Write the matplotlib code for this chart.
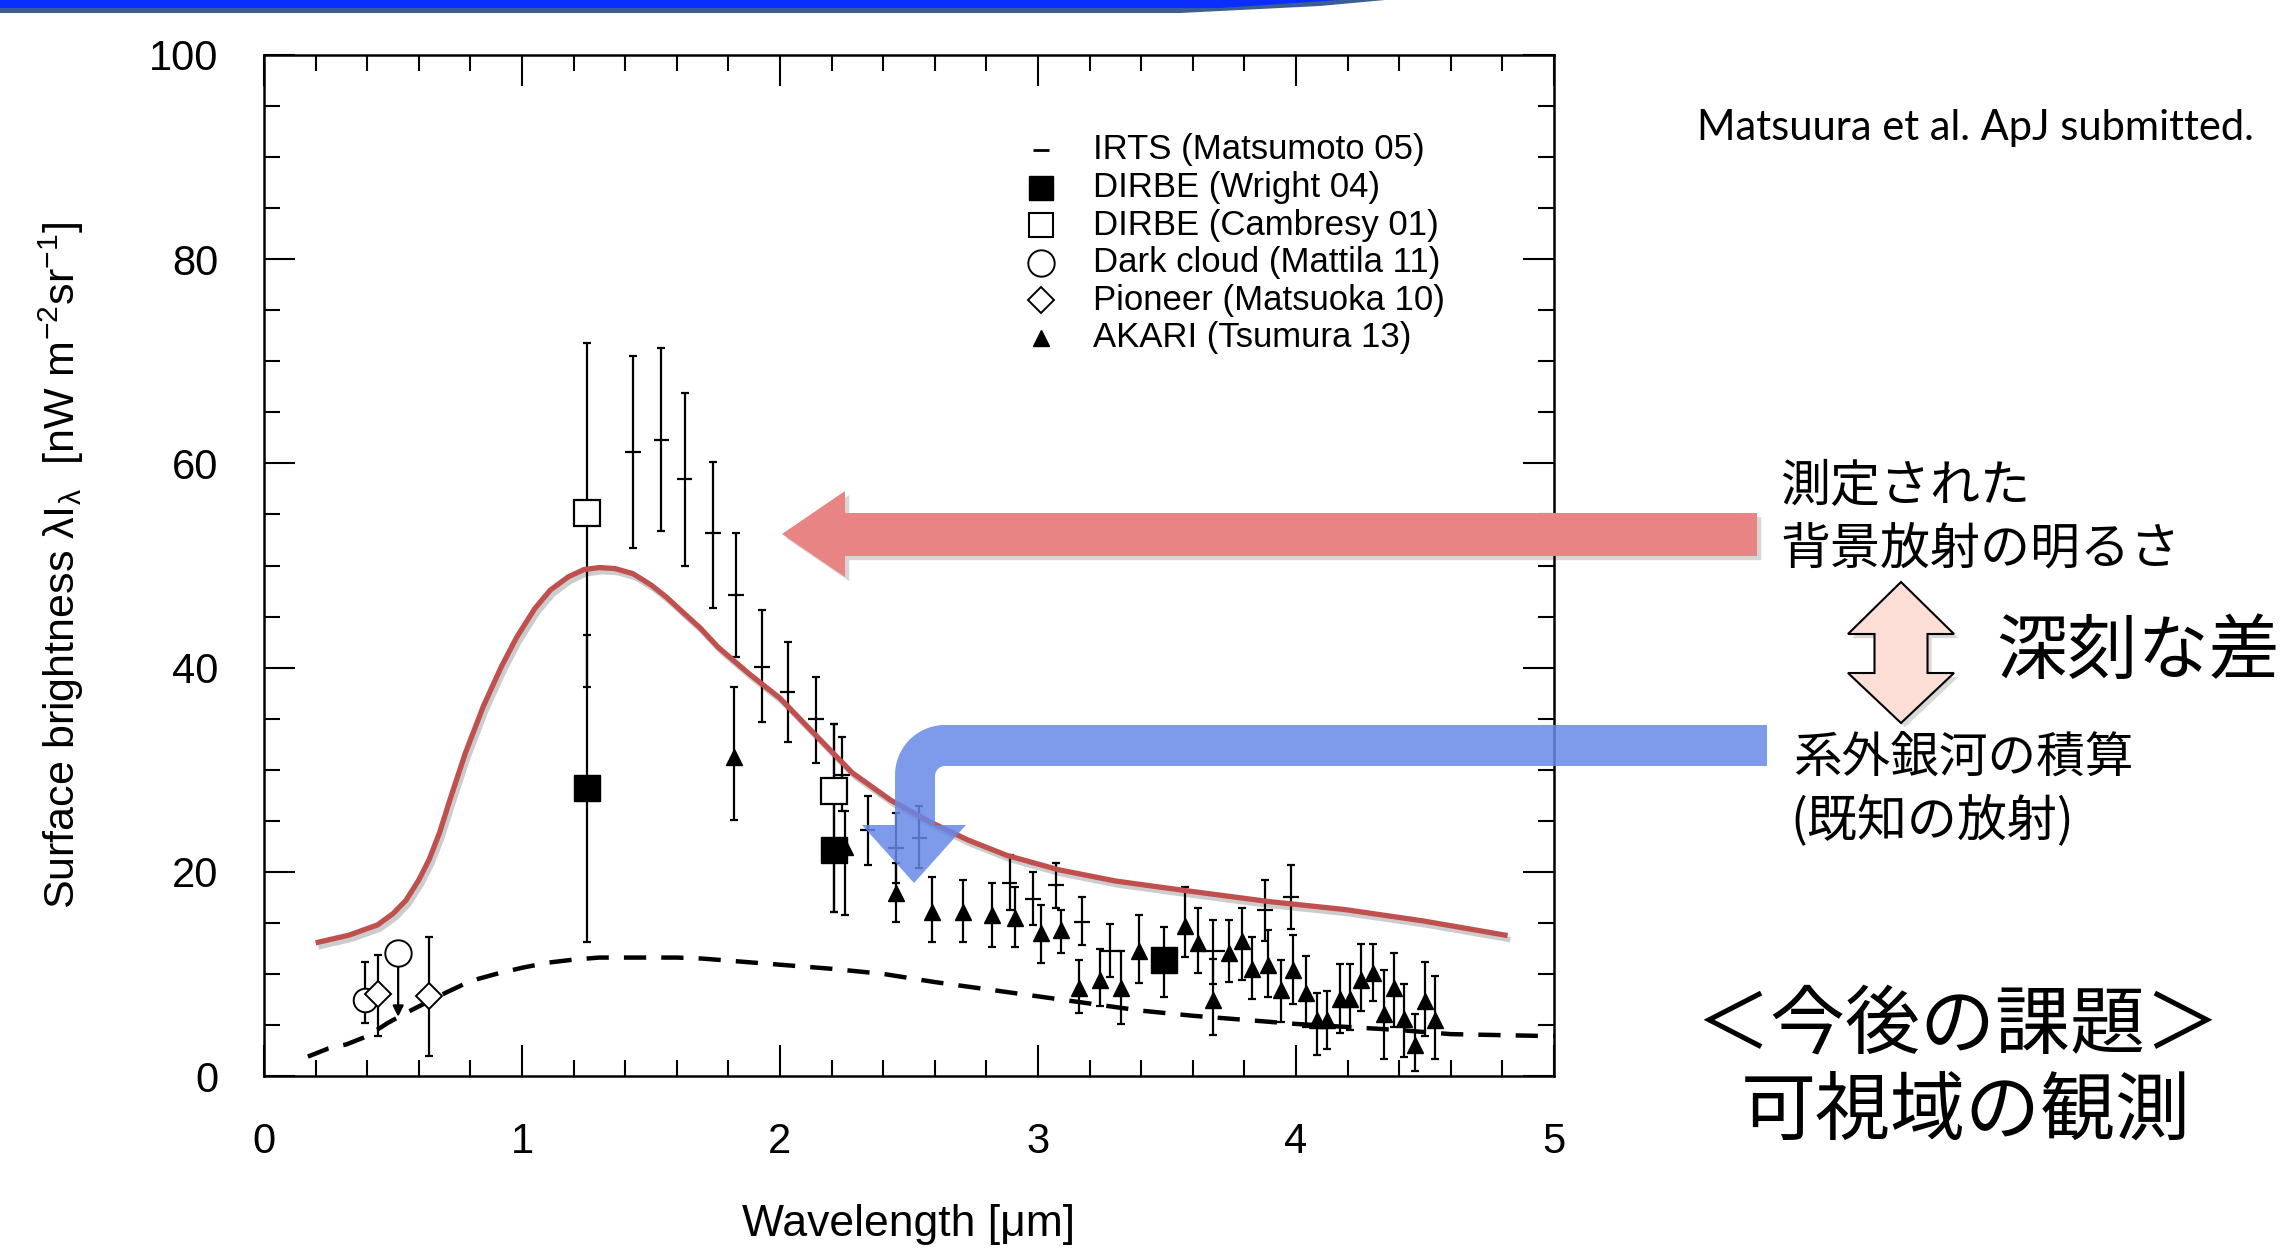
import numpy as np
import matplotlib.pyplot as plt
from matplotlib.patches import Polygon
from matplotlib.lines import Line2D
import matplotlib.patheffects as pe

plt.rcParams['font.family'] = ['Liberation Sans', 'Noto Sans CJK JP', 'DejaVu Sans']
plt.rcParams['mathtext.fontset'] = 'custom'
plt.rcParams['mathtext.rm'] = 'Liberation Sans'
plt.rcParams['mathtext.it'] = 'Liberation Sans:italic'

# model curve (red) and galaxy-count light (dashed)
model_x = [0.21, 0.33, 0.44, 0.50, 0.55, 0.60, 0.64, 0.68, 0.72, 0.78, 0.85, 0.92, 0.98, 1.05,
           1.11, 1.18, 1.24, 1.30, 1.36, 1.43, 1.50, 1.56, 1.62, 1.69, 1.76, 1.88, 2.00, 2.13,
           2.28, 2.43, 2.58, 2.73, 2.88, 3.08, 3.30, 3.56, 3.89, 4.19, 4.49, 4.81]
model_y = [13.1, 13.8, 14.8, 15.9, 17.2, 19.2, 21.2, 23.8, 27.0, 31.6, 36.2, 40.1, 43.0, 45.8,
           47.6, 48.9, 49.6, 49.8, 49.7, 49.2, 48.1, 46.9, 45.5, 43.9, 42.0, 39.4, 37.0, 33.6,
           29.7, 27.0, 24.9, 23.1, 21.6, 20.2, 19.1, 18.2, 17.1, 16.3, 15.2, 13.8]
igl_x = [0.17, 0.25, 0.32, 0.40, 0.48, 0.56, 0.70, 0.80, 0.90, 1.00, 1.10, 1.20, 1.30, 1.40,
         1.50, 1.60, 1.70, 1.80, 1.90, 2.00, 2.20, 2.40, 2.60, 2.80, 3.00, 3.20, 3.40, 3.60,
         3.80, 4.00, 4.20, 4.40, 4.60, 4.80, 5.00]
igl_y = [1.9, 2.7, 3.1, 3.9, 5.2, 6.3, 8.1, 9.3, 10.0, 10.6, 11.1, 11.4, 11.6, 11.6,
         11.6, 11.6, 11.5, 11.3, 11.1, 10.9, 10.5, 10.0, 9.2, 8.5, 7.8, 7.1, 6.4, 5.9,
         5.5, 5.1, 4.8, 4.5, 4.1, 4.0, 3.9]

# IRTS (Matsumoto 05)
irts_x = [1.43, 1.54, 1.63, 1.74, 1.83, 1.93, 2.03, 2.14, 2.24, 2.34, 2.45, 2.54, 2.89, 2.98,
          3.07, 3.17, 3.28, 3.68, 3.88, 3.98]
irts_y = [61.1, 62.3, 58.5, 53.2, 47.1, 40.1, 37.6, 35.0, 29.5, 24.1, 22.3, 23.3, 18.9, 17.3,
          18.7, 15.1, 12.2, 12.2, 16.3, 17.5]
irts_lo = [51.7, 53.4, 50.0, 45.8, 41.0, 34.7, 32.7, 30.7, 26.0, 20.7, 18.9, 20.4, 16.3, 14.8,
           16.5, 12.8, 9.7, 9.0, 13.2, 14.4]
irts_hi = [70.5, 71.3, 66.9, 60.1, 53.2, 45.6, 42.5, 39.1, 33.2, 27.4, 25.8, 26.4, 21.6, 20.0,
           20.9, 17.5, 14.9, 15.3, 19.2, 20.7]
irts_dx = [0.03, 0.03, 0.03, 0.03, 0.03, 0.03, 0.03, 0.03, 0.03, 0.03, 0.03, 0.03, 0.03, 0.03,
           0.03, 0.03, 0.04, 0.045, 0.03, 0.03]

# DIRBE (Wright 04) and DIRBE (Cambresy 01)
wright_x = [1.25, 2.21, 3.49]
wright_y = [28.2, 22.1, 11.4]
wright_lo = [13.1, 16.1, 7.7]
wright_hi = [43.2, 34.5, 14.6]
camb_x = [1.25, 2.21]
camb_y = [55.1, 27.9]
camb_lo = [38.1, 16.1]
camb_hi = [71.8, 34.5]

# Dark cloud (Mattila 11), Pioneer (Matsuoka 10)
mattila_x = [0.39]
mattila_y = [7.4]
mattila_lo = [5.2]
mattila_hi = [11.2]
mattila_ul_x = [0.52]
mattila_ul_y = [12.0]
mattila_ul_to = [5.8]
pioneer_x = [0.44, 0.64]
pioneer_y = [8.0, 7.8]
pioneer_lo = [3.9, 2.0]
pioneer_hi = [11.9, 13.6]

# AKARI (Tsumura 13)
akari_x = [1.82, 2.25, 2.45, 2.59, 2.71, 2.82, 2.91, 3.01, 3.09, 3.16, 3.24, 3.32, 3.39, 3.57,
           3.62, 3.68, 3.74, 3.79, 3.83, 3.89, 3.94, 3.99, 4.04, 4.08, 4.12, 4.17, 4.21, 4.25,
           4.30, 4.34, 4.38, 4.42, 4.46, 4.50, 4.54]
akari_y = [31.2, 22.4, 17.9, 16.1, 16.1, 15.8, 15.5, 14.0, 14.3, 8.6, 9.4, 8.6, 12.2, 14.7,
           13.0, 7.4, 12.0, 13.2, 10.5, 10.9, 8.4, 10.4, 8.1, 5.5, 5.5, 7.5, 7.5, 9.4,
           10.1, 6.1, 8.6, 5.6, 3.0, 7.3, 5.5]
akari_lo = [25.1, 15.8, 15.1, 13.1, 13.1, 12.6, 12.6, 11.1, 12.0, 6.2, 6.9, 5.1, 9.1, 11.7,
            10.1, 4.0, 9.2, 9.4, 7.5, 7.7, 5.3, 7.1, 4.8, 2.1, 2.6, 4.2, 4.5, 6.4,
            7.3, 1.7, 4.8, 1.9, 0.5, 3.9, 1.7]
akari_hi = [38.1, 26.0, 20.9, 19.5, 19.2, 18.9, 18.5, 16.7, 16.3, 11.4, 12.4, 12.2, 15.8, 18.5,
            16.5, 11.5, 15.3, 16.5, 13.6, 14.3, 11.4, 13.8, 11.8, 8.1, 8.3, 11.0, 11.0, 12.9,
            12.9, 10.4, 12.0, 9.0, 6.1, 11.2, 9.8]

legend_labels = ['IRTS (Matsumoto 05)', 'DIRBE (Wright 04)', 'DIRBE (Cambresy 01)',
                 'Dark cloud (Mattila 11)', 'Pioneer (Matsuoka 10)', 'AKARI (Tsumura 13)']

W, H = 2283, 1252


def fp(x, y):
    # image pixel -> figure fraction
    return (x / W, 1 - y / H)


def yerr(y, lo, hi):
    y, lo, hi = np.array(y), np.array(lo), np.array(hi)
    return [y - lo, hi - y]


fig = plt.figure(figsize=(W / 100, H / 100), dpi=100)
ax = fig.add_axes([264 / W, 1 - 1076 / H, 1290 / W, 1021 / H])

eb = dict(fmt='none', ecolor='black', elinewidth=1.6, capsize=3, capthick=1.6, zorder=3)

ax.plot(igl_x, igl_y, color='black', lw=3.2, linestyle=(0, (5.0, 3.4)), zorder=2)

ax.errorbar(irts_x, irts_y, yerr=yerr(irts_y, irts_lo, irts_hi), **eb)
ax.errorbar(irts_x, irts_y, xerr=irts_dx, fmt='none', ecolor='black', elinewidth=1.6,
            capsize=0, zorder=3)

ax.errorbar(akari_x, akari_y, yerr=yerr(akari_y, akari_lo, akari_hi), **eb)
ax.plot(akari_x, akari_y, '^', color='black', ms=12, zorder=4)

ax.errorbar(wright_x, wright_y, yerr=yerr(wright_y, wright_lo, wright_hi), **eb)
ax.plot(wright_x, wright_y, 's', color='black', ms=19, zorder=4)
ax.errorbar(camb_x, camb_y, yerr=yerr(camb_y, camb_lo, camb_hi), **eb)
ax.plot(camb_x, camb_y, 's', mfc='white', mec='black', mew=1.6, ms=19, zorder=4)

ax.errorbar(pioneer_x, pioneer_y, yerr=yerr(pioneer_y, pioneer_lo, pioneer_hi), **eb)
ax.errorbar(mattila_x, mattila_y, yerr=yerr(mattila_y, mattila_lo, mattila_hi), **eb)
ax.plot(mattila_x, mattila_y, 'o', mfc='white', mec='black', mew=1.4, ms=17, zorder=4)
ax.plot(pioneer_x, pioneer_y, 'D', mfc='white', mec='black', mew=1.4, ms=13, zorder=5)
for x0, y0, y1 in zip(mattila_ul_x, mattila_ul_y, mattila_ul_to):
    ax.annotate('', xy=(x0, y1), xytext=(x0, y0),
                arrowprops=dict(arrowstyle='-|>', color='black', lw=1.6,
                                shrinkA=9, shrinkB=0, mutation_scale=16), zorder=3)
ax.plot(mattila_ul_x, mattila_ul_y, 'o', mfc='white', mec='black', mew=1.4, ms=19, zorder=4)

ax.plot(model_x, model_y, color='#C0504D', lw=3.8, zorder=6, solid_joinstyle='round',
        path_effects=[pe.SimpleLineShadow(offset=(2, -3), alpha=0.2), pe.Normal()])

ax.set_xlim(0, 5)
ax.set_ylim(0, 100)
ax.set_xticks(np.arange(0, 6, 1))
ax.set_xticks(np.arange(0, 5.01, 0.2), minor=True)
ax.set_yticks(np.arange(0, 101, 20))
ax.set_yticks(np.arange(0, 101, 5), minor=True)
ax.tick_params(which='both', direction='in', top=True, right=True, width=1.5,
               labelsize=30, pad=33)
ax.tick_params(which='major', length=22)
ax.tick_params(which='minor', length=11.5)
for s in ax.spines.values():
    s.set_linewidth(1.8)

ax.set_xlabel('Wavelength [μm]', fontsize=32)
ax.xaxis.set_label_coords(0.5, -0.125)
ax.set_ylabel(r'Surface brightness λI$_{\mathrm{λ}}$  [nW m$^{\mathrm{-2}}$sr$^{\mathrm{-1}}$]',
              fontsize=31)
ax.yaxis.set_label_coords(-0.138, 0.5)

# legend drawn by hand
leg_styles = [dict(marker='_', ms=12, mew=2, color='black'),
              dict(marker='s', ms=17, color='black'),
              dict(marker='s', ms=17, mfc='white', mec='black', mew=1.5),
              dict(marker='o', ms=19, mfc='white', mec='black', mew=1.4),
              dict(marker='D', ms=13, mfc='white', mec='black', mew=1.4),
              dict(marker='^', ms=12, color='black')]
for i, (lab, st) in enumerate(zip(legend_labels, leg_styles)):
    yy = 150 + i * 37.6
    mx, my = fp(1041, yy)
    fig.add_artist(Line2D([mx], [my], transform=fig.transFigure, linestyle='none', **st))
    tx, ty = fp(1093, yy)
    fig.text(tx, ty, lab, fontsize=25, va='center', ha='left')

# top banner
banner_dark = [(0, 0), (1385, 0), (1320, 6), (1180, 13), (0, 13)]
banner_bright = [(0, 0), (1340, 0), (1220, 8), (0, 8)]
fig.add_artist(Polygon([fp(*p) for p in banner_dark], closed=True, transform=fig.transFigure,
                       fc='#3B5E93', ec='none'))
fig.add_artist(Polygon([fp(*p) for p in banner_bright], closed=True, transform=fig.transFigure,
                       fc='#0A2EFF', ec='none'))

shadow = [pe.SimplePatchShadow(offset=(3, -3), alpha=0.2), pe.Normal()]

# red arrow
red_pts = [(1757, 513), (845, 513), (845, 491), (782, 534), (845, 577), (845, 556), (1757, 556)]
fig.add_artist(Polygon([fp(*p) for p in red_pts], closed=True, transform=fig.transFigure,
                       fc='#E98484', ec='none', zorder=10, path_effects=shadow))

# blue bent arrow
t1 = np.linspace(-np.pi / 2, -np.pi, 20)
outer = [(945 + 50 * np.cos(t), 775 + 50 * np.sin(t)) for t in t1]
t2 = np.linspace(np.pi, 1.5 * np.pi, 10)
inner = [(945 + 10 * np.cos(t), 776 + 10 * np.sin(t)) for t in t2]
blue_pts = ([(1767, 725)] + outer + [(895, 825), (862, 825), (914, 883), (966, 825), (935, 825)]
            + inner + [(1767, 766)])
fig.add_artist(Polygon([fp(*p) for p in blue_pts], closed=True, transform=fig.transFigure,
                       fc='#6688E8', ec='none', alpha=0.85, zorder=10))

# double arrow
cx = 1901
dbl = [(cx, 582), (cx + 53, 634), (cx + 26.5, 634), (cx + 26.5, 673), (cx + 53, 673), (cx, 723),
       (cx - 53, 673), (cx - 26.5, 673), (cx - 26.5, 634), (cx - 53, 634)]
fig.add_artist(Polygon([fp(*p) for p in dbl], closed=True, transform=fig.transFigure,
                       fc='#FDDED6', ec='black', lw=1.5, zorder=10, path_effects=shadow))

jp = ['Noto Sans CJK JP', 'DejaVu Sans']
fig.text(*fp(1780, 487), '測定された', fontsize=36, va='center', ha='left', family=jp)
fig.text(*fp(1780, 550), '背景放射の明るさ', fontsize=36, va='center', ha='left', family=jp)
fig.text(*fp(1996, 652), '深刻な差', fontsize=51, va='center', ha='left', family=jp)
fig.text(*fp(1793, 758), '系外銀河の積算', fontsize=35, va='center', ha='left', family=jp)
fig.text(*fp(1790, 822), '(既知の放射)', fontsize=36, va='center', ha='left', family=jp)
fig.text(*fp(1958, 1026), '＜今後の課題＞', fontsize=54, va='center', ha='center', family=jp)
fig.text(*fp(1966, 1112), '可視域の観測', fontsize=54, va='center', ha='center', family=jp)
fig.text(*fp(2254, 128), 'Matsuura et al. ApJ submitted.', fontsize=30, va='center',
         ha='right', family=['Lato', 'DejaVu Sans'])

fig.savefig('out.png', dpi=100)
